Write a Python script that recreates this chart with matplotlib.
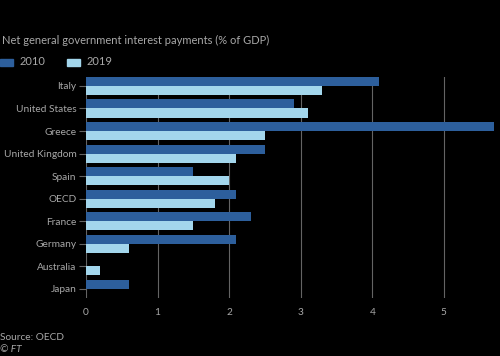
import numpy as np
import matplotlib.pyplot as plt
from matplotlib.patches import Rectangle

countries = ["Italy", "United States", "Greece", "United Kingdom", "Spain",
             "OECD", "France", "Germany", "Australia", "Japan"]
y2010 = [4.1, 2.9, 5.7, 2.5, 1.5, 2.1, 2.3, 2.1, 0.0, 0.6]
y2019 = [3.3, 3.1, 2.5, 2.1, 2.0, 1.8, 1.5, 0.6, 0.2, 0.0]
xticks = [0, 1, 2, 3, 4, 5]

bg = "#000000"
c2010 = "#2d5f9c"
c2019 = "#a3d6ec"
txt = "#a8a8a8"
grid = "#646464"

plt.rcParams['font.family'] = ['Lato', 'DejaVu Sans']

fig = plt.figure(figsize=(5, 3.56), dpi=100, facecolor=bg)
ax = fig.add_axes([0.172, 0.163, 0.816, 0.621], facecolor=bg)

pos = np.arange(len(countries))
h = 0.4
ax.barh(pos - h / 2, y2010, height=h, color=c2010, zorder=3)
ax.barh(pos + h / 2, y2019, height=h, color=c2019, zorder=3)

ax.set_ylim(9.4, -0.4)
ax.set_xlim(0, 5.7)
ax.set_xticks(xticks)
ax.set_yticks(pos)
ax.set_yticklabels(countries)
ax.grid(axis="x", color=grid, linewidth=0.8, zorder=0)
for s in ax.spines.values():
    s.set_visible(False)
ax.tick_params(axis="y", colors=grid, labelcolor=txt, labelsize=7.3, length=5, width=0.8, pad=2)
ax.tick_params(axis="x", colors=grid, labelcolor=txt, labelsize=7.3, length=0, pad=7)

fig.text(0.004, 0.885, "Net general government interest payments (% of GDP)",
         color=txt, fontsize=8, va="center")
# legend
fig.patches.append(Rectangle((0.0, 0.816), 0.026, 0.019, transform=fig.transFigure,
                             color=c2010, figure=fig))
fig.text(0.04, 0.826, "2010", color=txt, fontsize=8, va="center")
fig.patches.append(Rectangle((0.134, 0.816), 0.026, 0.019, transform=fig.transFigure,
                             color=c2019, figure=fig))
fig.text(0.174, 0.826, "2019", color=txt, fontsize=8, va="center")

fig.text(0.0, 0.053, "Source: OECD", color=txt, fontsize=7.3, va="center")
fig.text(0.0, 0.017, "© FT", color=txt, fontsize=7.3, va="center", style="italic")

fig.savefig("out.png", dpi=100, facecolor=bg)
